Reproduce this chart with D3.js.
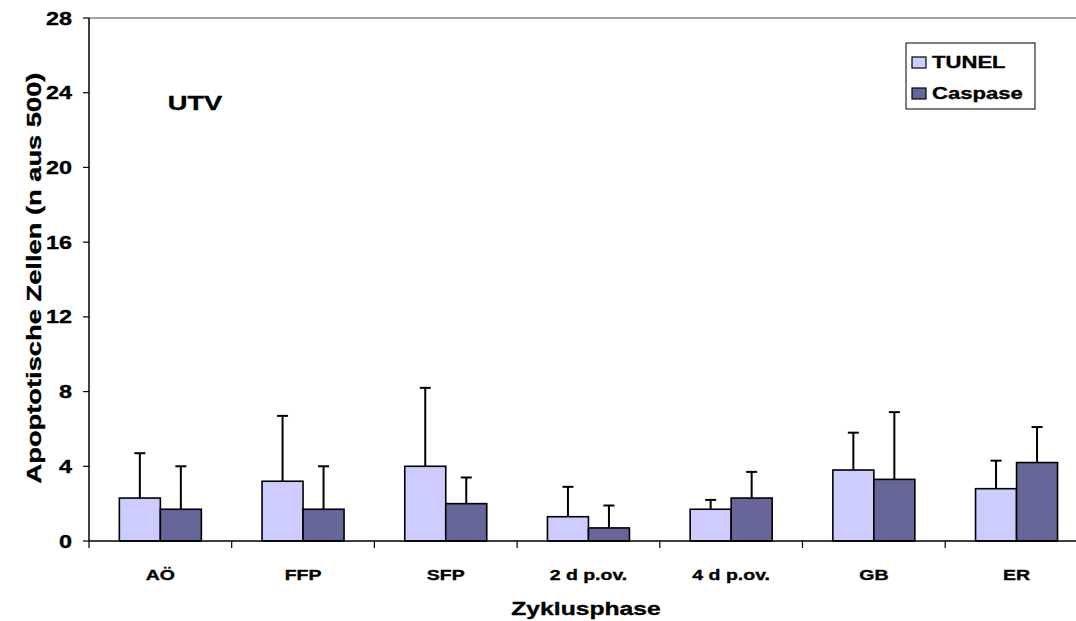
<!DOCTYPE html>
<html>
<head>
<meta charset="utf-8">
<script src="https://cdn.jsdelivr.net/npm/d3@7"></script>
<style>
  body { margin: 0; background: #fff; }
  text { font-family: "Liberation Sans", Arial, sans-serif; font-weight: bold; fill: #000; stroke: #000; stroke-width: 0.35px; }
</style>
</head>
<body>
<svg id="chart" width="1076" height="621"></svg>
<script>
// data
var phases = ["AÖ", "FFP", "SFP", "2 d p.ov.", "4 d p.ov.", "GB", "ER"];
var seriesNames = ["TUNEL", "Caspase"];
var tunel = [2.3, 3.2, 4.0, 1.3, 1.7, 3.8, 2.8];
var tunelErr = [2.4, 3.5, 4.2, 1.6, 0.5, 2.0, 1.5];
var caspase = [1.7, 1.7, 2.0, 0.7, 2.3, 3.3, 4.2];
var caspaseErr = [2.3, 2.3, 1.4, 1.2, 1.4, 3.6, 1.9];
var yTicks = [0, 4, 8, 12, 16, 20, 24, 28];
var colors = ["#ccccff", "#666699"];

var plotLeft = 89, plotTop = 18, plotBottom = 541;
var bandW = 142.7;
var stretch = 1.3;

var chart = d3.select("#chart");

var x0 = d3.scaleBand().domain(phases).range([plotLeft, plotLeft + bandW * phases.length]);
var groupW = 82;
var x1 = d3.scaleBand().domain(seriesNames).range([0, groupW]);
var y = d3.scaleLinear().domain([0, 28]).range([plotBottom, plotTop]);

var rows = phases.map(function (p, i) {
  return [
    { phase: p, s: "TUNEL", v: tunel[i], e: tunelErr[i] },
    { phase: p, s: "Caspase", v: caspase[i], e: caspaseErr[i] }
  ];
});

// stretched text helper (the original fonts are wider than Arial)
function label(g, str, x, y, size, anchor, rot) {
  var t = g.append("text")
    .text(str)
    .attr("font-size", size)
    .attr("text-anchor", anchor || "start")
    .attr("transform", "translate(" + x + "," + y + ")" + (rot ? " rotate(" + rot + ")" : "") + " scale(" + stretch + ",1)");
  return t;
}

// top frame line
chart.append("line")
  .attr("x1", plotLeft).attr("x2", 1076)
  .attr("y1", plotTop).attr("y2", plotTop)
  .attr("stroke", "#808080").attr("stroke-width", 1.5);

// bars
var groups = chart.selectAll("g.grp")
  .data(rows)
  .enter()
  .append("g")
  .attr("class", "grp")
  .attr("transform", function (d) {
    return "translate(" + (x0(d[0].phase) + (bandW - groupW) / 2) + ",0)";
  });

groups.selectAll("rect")
  .data(function (d) { return d; })
  .enter()
  .append("rect")
  .attr("x", function (d) { return x1(d.s); })
  .attr("y", function (d) { return y(d.v); })
  .attr("width", x1.bandwidth())
  .attr("height", function (d) { return y(0) - y(d.v); })
  .attr("fill", function (d, i) { return colors[i]; })
  .attr("stroke", "#000")
  .attr("stroke-width", 1.6);

// error bars (upper only)
groups.selectAll("line.err")
  .data(function (d) { return d; })
  .enter()
  .append("line")
  .attr("class", "err")
  .attr("x1", function (d) { return x1(d.s) + x1.bandwidth() / 2; })
  .attr("x2", function (d) { return x1(d.s) + x1.bandwidth() / 2; })
  .attr("y1", function (d) { return y(d.v); })
  .attr("y2", function (d) { return y(d.v + d.e); })
  .attr("stroke", "#000").attr("stroke-width", 2);

groups.selectAll("line.cap")
  .data(function (d) { return d; })
  .enter()
  .append("line")
  .attr("class", "cap")
  .attr("x1", function (d) { return x1(d.s) + x1.bandwidth() / 2 - 5.5; })
  .attr("x2", function (d) { return x1(d.s) + x1.bandwidth() / 2 + 5.5; })
  .attr("y1", function (d) { return y(d.v + d.e); })
  .attr("y2", function (d) { return y(d.v + d.e); })
  .attr("stroke", "#000").attr("stroke-width", 2);

// y axis
chart.append("line")
  .attr("x1", plotLeft).attr("x2", plotLeft)
  .attr("y1", plotTop).attr("y2", plotBottom)
  .attr("stroke", "#000").attr("stroke-width", 1.5);

chart.selectAll("line.ytick")
  .data(yTicks)
  .enter()
  .append("line")
  .attr("class", "ytick")
  .attr("x1", plotLeft - 6).attr("x2", plotLeft)
  .attr("y1", function (d) { return y(d); })
  .attr("y2", function (d) { return y(d); })
  .attr("stroke", "#000").attr("stroke-width", 1.2);

yTicks.forEach(function (t) {
  label(chart, String(t), 72, y(t) + 6.5, 18, "end");
});

// x axis
chart.append("line")
  .attr("x1", plotLeft).attr("x2", 1076)
  .attr("y1", plotBottom).attr("y2", plotBottom)
  .attr("stroke", "#000").attr("stroke-width", 1.5);

chart.selectAll("line.xtick")
  .data(phases)
  .enter()
  .append("line")
  .attr("class", "xtick")
  .attr("x1", function (d) { return x0(d); })
  .attr("x2", function (d) { return x0(d); })
  .attr("y1", plotBottom).attr("y2", plotBottom + 7)
  .attr("stroke", "#000").attr("stroke-width", 1.2);

phases.forEach(function (p) {
  label(chart, p, x0(p) + bandW / 2, 580, 15, "middle");
});

// axis titles
label(chart, "Zyklusphase", 586, 615, 19, "middle");
label(chart, "Apoptotische Zellen (n aus 500)", 41, 278, 21, "middle", -90);

// panel label
label(chart, "UTV", 195, 110, 21, "middle");

// legend
var legend = chart.append("g");
legend.append("rect")
  .attr("x", 906).attr("y", 43)
  .attr("width", 129).attr("height", 66)
  .attr("fill", "#fff").attr("stroke", "#000").attr("stroke-width", 1);

seriesNames.forEach(function (s, i) {
  legend.append("rect")
    .attr("x", 912).attr("y", 57 + i * 31)
    .attr("width", 14).attr("height", 11)
    .attr("fill", colors[i]).attr("stroke", "#000").attr("stroke-width", 1.2);
  label(legend, s, 932, 68 + i * 31, 17, "start");
});
</script>
</body>
</html>
